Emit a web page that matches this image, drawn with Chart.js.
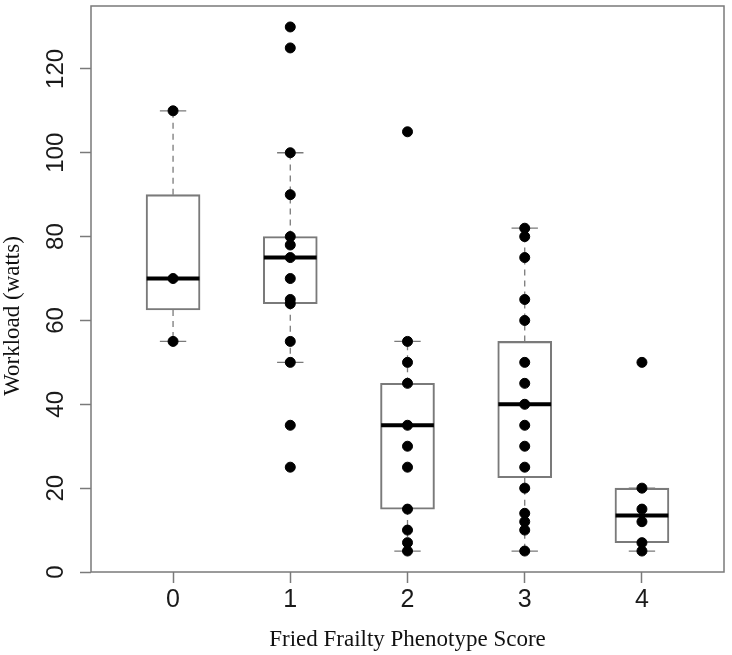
<!DOCTYPE html>
<html>
<head>
<meta charset="utf-8">
<script src="https://cdn.jsdelivr.net/npm/chart.js@4/dist/chart.umd.min.js"></script>
<style>
  html, body { margin: 0; padding: 0; background: #fff; }
  canvas { display: block; }
</style>
</head>
<body>
<canvas id="box-chart" width="732" height="655"></canvas>
<script>
// frailty score groups
const scores = [0, 1, 2, 3, 4];
const yTicks = [0, 20, 40, 60, 80, 100, 120];

// individual workload values per score (watts)
const score0 = [110, 70, 55];
const score1 = [130, 125, 100, 90, 80, 78, 75, 70, 65, 64, 55, 50, 35, 25];
const score2 = [105, 55, 50, 45, 35, 30, 25, 15, 10, 7, 5];
const score3 = [82, 80, 75, 65, 60, 50, 45, 40, 35, 30, 25, 20, 14, 12, 10, 5];
const score4 = [50, 20, 15, 12, 7, 5];

// box plot summary as drawn
const whiskerLow = [55, 50, 5, 5, 5];
const q1 = [62.5, 64, 15, 22.5, 7];
const medians = [70, 75, 35, 40, 13.5];
const q3 = [90, 80, 45, 55, 20];
const whiskerHigh = [110, 100, 55, 82, 20];

const groups = [score0, score1, score2, score3, score4];
const boxHalf = 0.225;
const capHalf = 0.1125;

const greyLine = '#7a7a7a';
const yTitle = 'Workload (watts)';

// build segment lists (pairs of points split by gaps)
function segments(fn) {
    let out = [];
    scores.forEach((s, i) => {
        fn(s, i).forEach(p => out.push(p));
        out.push({ x: s, y: null });
    });
    return out;
}

const whiskerData = segments((s, i) => [
    { x: s, y: q3[i] }, { x: s, y: whiskerHigh[i] }, { x: s, y: null },
    { x: s, y: q1[i] }, { x: s, y: whiskerLow[i] }
]);
const capData = segments((s, i) => [
    { x: s - capHalf, y: whiskerHigh[i] }, { x: s + capHalf, y: whiskerHigh[i] }, { x: s, y: null },
    { x: s - capHalf, y: whiskerLow[i] }, { x: s + capHalf, y: whiskerLow[i] }
]);
const medianData = segments((s, i) => [
    { x: s - boxHalf, y: medians[i] }, { x: s + boxHalf, y: medians[i] }
]);
const pointData = [];
groups.forEach((g, i) => g.forEach(v => pointData.push({ x: scores[i], y: v })));

// plot frame + y title (title sits a bit below the axis middle in the original)
const framePlugin = {
    id: 'frame',
    afterDraw(chart) {
        const a = chart.chartArea;
        const ctx = chart.ctx;
        ctx.save();
        ctx.strokeStyle = '#7a7a7a';
        ctx.lineWidth = 1.5;
        ctx.strokeRect(a.left, a.top, a.right - a.left, a.bottom - a.top);

        ctx.translate(13, (a.top + a.bottom) / 2 + 27);
        ctx.rotate(-Math.PI / 2);
        ctx.font = '23px "Liberation Serif"';
        ctx.fillStyle = '#111';
        ctx.textAlign = 'center';
        ctx.textBaseline = 'middle';
        ctx.fillText(yTitle, 0, 0);
        ctx.restore();
    }
};

let boxChart = new Chart(document.getElementById('box-chart'), {
    type: 'scatter',
    data: {
        datasets: [
            {
                type: 'scatter',
                label: 'Workload',
                data: pointData,
                backgroundColor: '#000',
                borderColor: '#000',
                pointRadius: 5,
                pointHoverRadius: 5,
                order: 0
            },
            {
                type: 'line',
                label: 'Median',
                data: medianData,
                borderColor: '#000',
                borderWidth: 4,
                pointRadius: 0,
                spanGaps: false,
                order: 1
            },
            {
                type: 'bar',
                label: 'IQR',
                data: scores.map((s, i) => ({ x: s, y: [q1[i], q3[i]] })),
                backgroundColor: 'rgba(255,255,255,0)',
                borderColor: greyLine,
                borderWidth: 1.4,
                borderSkipped: false,
                barThickness: 54,
                grouped: false,
                order: 2
            },
            {
                type: 'line',
                label: 'Whiskers',
                data: whiskerData,
                borderColor: greyLine,
                borderWidth: 1.3,
                borderDash: [6, 5],
                pointRadius: 0,
                spanGaps: false,
                order: 3
            },
            {
                type: 'line',
                label: 'Caps',
                data: capData,
                borderColor: greyLine,
                borderWidth: 1.3,
                pointRadius: 0,
                spanGaps: false,
                order: 3
            }
        ]
    },
    options: {
        responsive: false,
        animation: false,
        layout: { padding: { top: 5, right: 8, left: 0, bottom: 0 } },
        plugins: {
            legend: { display: false },
            tooltip: { enabled: false }
        },
        scales: {
            x: {
                type: 'linear',
                min: -0.7,
                max: 4.7,
                offset: false,
                afterBuildTicks: s => { s.ticks = scores.map(v => ({ value: v })); },
                afterFit: s => { s.height = 83; s.paddingLeft = 0; s.paddingRight = 0; },
                border: { display: false },
                grid: {
                    display: true,
                    offset: false,
                    drawOnChartArea: false,
                    drawTicks: true,
                    tickLength: 11,
                    tickWidth: 1.5,
                    color: greyLine
                },
                ticks: {
                    color: '#1a1a1a',
                    padding: 2,
                    font: { family: 'Liberation Sans', size: 25 },
                    callback: v => String(v)
                },
                title: {
                    display: true,
                    text: 'Fried Frailty Phenotype Score',
                    color: '#111',
                    font: { family: 'Liberation Serif', size: 23, lineHeight: 1.2 },
                    padding: { top: 0, bottom: 1 }
                }
            },
            y: {
                min: 0,
                max: 135,
                afterBuildTicks: s => { s.ticks = yTicks.map(v => ({ value: v })); },
                afterFit: s => { s.width = 91; s.paddingTop = 0; s.paddingBottom = 0; },
                border: { display: false },
                grid: {
                    display: true,
                    drawOnChartArea: false,
                    drawTicks: true,
                    tickLength: 11,
                    tickWidth: 1.5,
                    color: greyLine
                },
                ticks: {
                    color: '#1a1a1a',
                    autoSkip: false,
                    minRotation: 90,
                    maxRotation: 90,
                    crossAlign: 'center',
                    padding: 4,
                    font: { family: 'Liberation Sans', size: 24 }
                },
                title: { display: false }
            }
        }
    },
    plugins: [framePlugin]
});
</script>
</body>
</html>
